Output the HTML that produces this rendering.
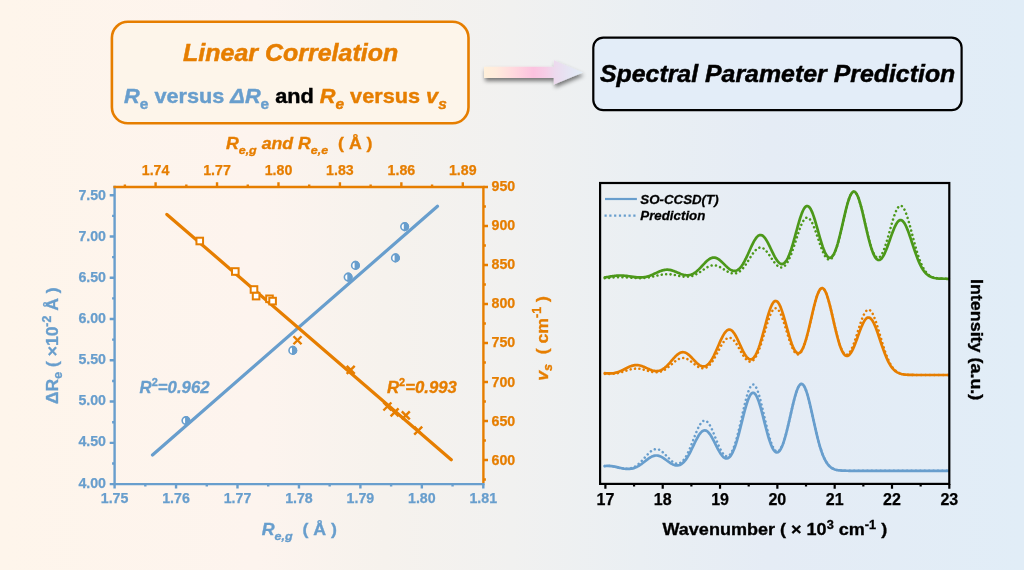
<!DOCTYPE html>
<html lang="en"><head><meta charset="utf-8"><title>Linear Correlation - Spectral Parameter Prediction</title>
<style>html,body{margin:0;padding:0;background:#f1f1f0;}body{width:1024px;height:570px;overflow:hidden;}svg{display:block;font-family:"Liberation Sans", sans-serif;font-weight:bold;}.i{font-style:italic;}.n{font-style:normal;}</style></head><body>
<svg width="1024" height="570" viewBox="0 0 1024 570">
<defs>
<linearGradient id="bg" x1="0" y1="0" x2="1" y2="0">
<stop offset="0" stop-color="rgb(254,245,235)"/>
<stop offset="0.25" stop-color="rgb(253,244,238)"/>
<stop offset="0.375" stop-color="rgb(246,242,237)"/>
<stop offset="0.5" stop-color="rgb(241,241,240)"/>
<stop offset="0.625" stop-color="rgb(234,239,243)"/>
<stop offset="0.75" stop-color="rgb(229,236,245)"/>
<stop offset="1" stop-color="rgb(225,237,247)"/>
</linearGradient>
<linearGradient id="ag" x1="484" y1="0" x2="583" y2="0" gradientUnits="userSpaceOnUse">
<stop offset="0" stop-color="#FFF0DA"/>
<stop offset="0.12" stop-color="#FFEBDC"/>
<stop offset="0.3" stop-color="#FFD8DE"/>
<stop offset="0.5" stop-color="#FBC2DF"/>
<stop offset="0.62" stop-color="#F6CDE6"/>
<stop offset="0.72" stop-color="#ECDAEE"/>
<stop offset="0.85" stop-color="#E6E4F3"/>
<stop offset="1" stop-color="#E2EEF8"/>
</linearGradient>
<filter id="sh" x="-10%" y="-30%" width="125%" height="170%"><feGaussianBlur in="SourceAlpha" stdDeviation="2"/><feOffset dx="1.3" dy="2.9"/><feComponentTransfer><feFuncA type="linear" slope="0.52"/></feComponentTransfer><feMerge><feMergeNode/><feMergeNode in="SourceGraphic"/></feMerge></filter>
</defs>
<rect x="0" y="0" width="1024" height="570" fill="url(#bg)"/>
<rect x="111.9" y="21.8" width="356.6" height="101.5" rx="16" ry="16" fill="#FDF5EA" stroke="#E67E00" stroke-width="2.6"/>
<text transform="translate(290.60 61.20) scale(1.0370 1)" font-size="24.1" fill="#E67E00" stroke="#E67E00" stroke-width="0.48" text-anchor="middle" class="i" xml:space="preserve">Linear Correlation</text>
<text transform="translate(124.10 103.10) scale(1.0640 1)" font-size="20.4" fill="#689ECD" stroke="#689ECD" stroke-width="0.41" text-anchor="start" xml:space="preserve"><tspan class="i">R</tspan><tspan dy="5.8" font-size="14.5">e</tspan><tspan dy="-5.8"> versus </tspan><tspan class="i">ΔR</tspan><tspan dy="5.8" font-size="14.5">e</tspan><tspan dy="-5.8" fill="#000" stroke="#000"> and </tspan><tspan fill="#E67E00" stroke="#E67E00" class="i">R</tspan><tspan fill="#E67E00" stroke="#E67E00" class="i" dy="5.8" font-size="14.5">e</tspan><tspan fill="#E67E00" stroke="#E67E00" dy="-5.8"> versus </tspan><tspan fill="#E67E00" stroke="#E67E00" class="i">v</tspan><tspan fill="#E67E00" stroke="#E67E00" class="i" dy="5.8" font-size="14.5">s</tspan></text>
<path filter="url(#sh)" fill="url(#ag)" d="M484 66.8H553.9V60.3L582.9 72.4L553.9 84.6V77.9H484Z"/>
<rect x="593.3" y="37.6" width="368.3" height="72.5" rx="10" ry="10" fill="#E3EDF8" stroke="#000" stroke-width="2.2"/>
<text transform="translate(777.60 82.20) scale(1.0370 1)" font-size="24" fill="#000" stroke="#000" stroke-width="0.48" text-anchor="middle" class="i" xml:space="preserve">Spectral Parameter Prediction</text>
<path d="M114.60 484.10H109.70M114.60 463.47H112.10M114.60 442.83H109.70M114.60 422.20H112.10M114.60 401.56H109.70M114.60 380.93H112.10M114.60 360.29H109.70M114.60 339.65H112.10M114.60 319.02H109.70M114.60 298.38H112.10M114.60 277.75H109.70M114.60 257.12H112.10M114.60 236.48H109.70M114.60 215.85H112.10M114.60 195.21H109.70M114.60 484.10V488.60M145.32 484.10V486.60M176.05 484.10V488.60M206.77 484.10V486.60M237.50 484.10V488.60M268.22 484.10V486.60M298.95 484.10V488.60M329.67 484.10V486.60M360.40 484.10V488.60M391.12 484.10V486.60M421.85 484.10V488.60M452.57 484.10V486.60M483.30 484.10V488.60" stroke="#689ECD" stroke-width="2.4" fill="none"/>
<path d="M114.60 187.00V484.10H483.40" stroke="#689ECD" stroke-width="2.4" fill="none" stroke-linecap="square"/>
<path d="M155.60 187.00V182.20M217.04 187.00V182.20M278.48 187.00V182.20M339.92 187.00V182.20M401.36 187.00V182.20M462.80 187.00V182.20M124.88 187.00V184.50M186.32 187.00V184.50M247.76 187.00V184.50M309.20 187.00V184.50M370.64 187.00V184.50M432.08 187.00V184.50M483.40 460.00H488.00M483.40 421.00H488.00M483.40 382.00H488.00M483.40 343.00H488.00M483.40 304.00H488.00M483.40 265.00H488.00M483.40 226.00H488.00M483.40 187.00H488.00M483.40 479.50H485.90M483.40 440.50H485.90M483.40 401.50H485.90M483.40 362.50H485.90M483.40 323.50H485.90M483.40 284.50H485.90M483.40 245.50H485.90M483.40 206.50H485.90" stroke="#E67E00" stroke-width="2.4" fill="none"/>
<path d="M113.40 187.00H483.40V482.90" stroke="#E67E00" stroke-width="2.4" fill="none"/>
<g font-size="14.2" fill="#689ECD" stroke="#689ECD" stroke-width="0.25" text-anchor="end">
<text x="106.0" y="487.50">4.00</text>
<text x="106.0" y="446.40">4.50</text>
<text x="106.0" y="405.30">5.00</text>
<text x="106.0" y="364.20">5.50</text>
<text x="106.0" y="323.10">6.00</text>
<text x="106.0" y="282.00">6.50</text>
<text x="106.0" y="240.90">7.00</text>
<text x="106.0" y="199.80">7.50</text>
</g>
<g font-size="14.2" fill="#689ECD" stroke="#689ECD" stroke-width="0.25" text-anchor="middle">
<text x="114.60" y="503.2">1.75</text>
<text x="176.05" y="503.2">1.76</text>
<text x="237.50" y="503.2">1.77</text>
<text x="298.95" y="503.2">1.78</text>
<text x="360.40" y="503.2">1.79</text>
<text x="421.85" y="503.2">1.80</text>
<text x="483.30" y="503.2">1.81</text>
</g>
<g font-size="14.2" fill="#E67E00" stroke="#E67E00" stroke-width="0.25" text-anchor="middle">
<text x="155.60" y="174.7">1.74</text>
<text x="217.04" y="174.7">1.77</text>
<text x="278.48" y="174.7">1.80</text>
<text x="339.92" y="174.7">1.83</text>
<text x="401.36" y="174.7">1.86</text>
<text x="462.80" y="174.7">1.89</text>
</g>
<g font-size="14.2" fill="#E67E00" stroke="#E67E00" stroke-width="0.25" text-anchor="start">
<text x="491.5" y="464.70">600</text>
<text x="491.5" y="425.63">650</text>
<text x="491.5" y="386.56">700</text>
<text x="491.5" y="347.49">750</text>
<text x="491.5" y="308.42">800</text>
<text x="491.5" y="269.35">850</text>
<text x="491.5" y="230.28">900</text>
<text x="491.5" y="191.21">950</text>
</g>
<g stroke="#689ECD" stroke-width="1.6">
<circle cx="185.90" cy="420.60" r="3.75" fill="#fff"/><path d="M185.90 416.85a3.75 3.75 0 0 1 0 7.5z" fill="#689ECD"/>
<circle cx="292.75" cy="350.40" r="3.75" fill="#fff"/><path d="M292.75 346.65a3.75 3.75 0 0 1 0 7.5z" fill="#689ECD"/>
<circle cx="348.10" cy="277.10" r="3.75" fill="#fff"/><path d="M348.10 273.35a3.75 3.75 0 0 1 0 7.5z" fill="#689ECD"/>
<circle cx="355.40" cy="265.40" r="3.75" fill="#fff"/><path d="M355.40 261.65a3.75 3.75 0 0 1 0 7.5z" fill="#689ECD"/>
<circle cx="395.40" cy="257.90" r="3.75" fill="#fff"/><path d="M395.40 254.15a3.75 3.75 0 0 1 0 7.5z" fill="#689ECD"/>
<circle cx="404.60" cy="226.60" r="3.75" fill="#fff"/><path d="M404.60 222.85a3.75 3.75 0 0 1 0 7.5z" fill="#689ECD"/>
</g>
<path d="M152.5 455L437.5 206.25" stroke="#689ECD" stroke-width="3.2" stroke-linecap="round" fill="none"/>
<path d="M166.9 214.4L451.25 459.75" stroke="#E67E00" stroke-width="3.25" stroke-linecap="round" fill="none"/>
<g stroke="#E67E00" stroke-width="2" fill="#fff">
<rect x="196.45" y="237.70" width="6.6" height="6.6"/>
<rect x="232.00" y="268.20" width="6.6" height="6.6"/>
<rect x="250.70" y="286.20" width="6.6" height="6.6"/>
<rect x="252.80" y="292.80" width="6.6" height="6.6"/>
<rect x="266.20" y="295.50" width="6.6" height="6.6"/>
<rect x="269.30" y="297.80" width="6.6" height="6.6"/>
</g>
<path d="M293.50 336.25l8.00 8.00M293.50 344.25l8.00 -8.00M346.70 365.80l8.00 8.00M346.70 373.80l8.00 -8.00M383.40 402.50l8.00 8.00M383.40 410.50l8.00 -8.00M390.60 408.30l8.00 8.00M390.60 416.30l8.00 -8.00M401.80 411.30l8.00 8.00M401.80 419.30l8.00 -8.00M414.20 426.70l8.00 8.00M414.20 434.70l8.00 -8.00" stroke="#E67E00" stroke-width="2.4" fill="none"/>
<text transform="translate(139.60 392.50) scale(1.0480 1)" font-size="16" fill="#689ECD" stroke="#689ECD" stroke-width="0.32" text-anchor="start" class="i" xml:space="preserve">R<tspan class="n" dy="-7" font-size="10.5">2</tspan><tspan dy="7">=0.962</tspan></text>
<text transform="translate(387.00 393.30) scale(1.0460 1)" font-size="16" fill="#E67E00" stroke="#E67E00" stroke-width="0.32" text-anchor="start" class="i" xml:space="preserve">R<tspan class="n" dy="-7" font-size="10.5">2</tspan><tspan dy="7">=0.993</tspan></text>
<text transform="translate(299.20 149.10) scale(1.0870 1)" font-size="16.3" fill="#E67E00" stroke="#E67E00" stroke-width="0.33" text-anchor="middle" xml:space="preserve"><tspan class="i">R</tspan><tspan class="i" dy="4.5" font-size="11.5">e,g</tspan><tspan class="i" dy="-4.5"> and R</tspan><tspan class="i" dy="4.5" font-size="11.5">e,e</tspan><tspan dy="-4.5">  ( Å )</tspan></text>
<text transform="translate(299.30 535.00) scale(1.0900 1)" font-size="16.3" fill="#689ECD" stroke="#689ECD" stroke-width="0.33" text-anchor="middle" xml:space="preserve"><tspan class="i">R</tspan><tspan class="i" dy="4.5" font-size="11.5">e,g</tspan><tspan dy="-4.5">  ( Å )</tspan></text>
<text transform="translate(57.90 345.70) rotate(-90) scale(1.0300 1)" font-size="17" fill="#689ECD" stroke="#689ECD" stroke-width="0.34" text-anchor="middle" xml:space="preserve">ΔR<tspan dy="4" font-size="12">e</tspan><tspan dy="-4"> ( ×10</tspan><tspan dy="-6.7" font-size="12">-2</tspan><tspan dy="6.7"> Å )</tspan></text>
<text transform="translate(547.80 338.40) rotate(-90) scale(1.0170 1)" font-size="17.3" fill="#E67E00" stroke="#E67E00" stroke-width="0.35" text-anchor="middle" xml:space="preserve"><tspan class="i">v</tspan><tspan class="i" dy="4" font-size="12.3">s</tspan><tspan dy="-4">  ( cm</tspan><tspan dy="-6.7" font-size="12.3">-1</tspan><tspan dy="6.7"> )</tspan></text>
<path d="M604.8 278.18L605.8 278.11L606.8 278.04L607.8 277.96L608.8 277.89L609.8 277.81L610.8 277.73L611.8 277.66L612.8 277.59L613.8 277.52L614.8 277.46L615.8 277.41L616.8 277.37L617.8 277.34L618.8 277.31L619.8 277.30L620.8 277.30L621.8 277.31L622.8 277.33L623.8 277.36L624.8 277.40L625.8 277.45L626.8 277.50L627.8 277.56L628.8 277.63L629.8 277.69L630.8 277.76L631.8 277.83L632.8 277.89L633.8 277.96L634.8 278.01L635.8 278.06L636.8 278.10L637.8 278.12L638.8 278.14L639.8 278.14L640.8 278.13L641.8 278.10L642.8 278.05L643.8 277.99L644.8 277.91L645.8 277.81L646.8 277.69L647.8 277.56L648.8 277.40L649.8 277.23L650.8 277.04L651.8 276.83L652.8 276.62L653.8 276.39L654.8 276.16L655.8 275.92L656.8 275.69L657.8 275.46L658.8 275.23L659.8 275.02L660.8 274.83L661.8 274.65L662.8 274.50L663.8 274.38L664.8 274.29L665.8 274.23L666.8 274.20L667.8 274.20L668.8 274.24L669.8 274.31L670.8 274.41L671.8 274.54L672.8 274.70L673.8 274.87L674.8 275.06L675.8 275.26L676.8 275.47L677.8 275.68L678.8 275.89L679.8 276.09L680.8 276.27L681.8 276.44L682.8 276.58L683.8 276.69L684.8 276.77L685.8 276.81L686.8 276.81L687.8 276.77L688.8 276.68L689.8 276.53L690.8 276.34L691.8 276.09L692.8 275.78L693.8 275.42L694.8 275.00L695.8 274.53L696.8 274.01L697.8 273.45L698.8 272.84L699.8 272.20L700.8 271.53L701.8 270.84L702.8 270.15L703.8 269.46L704.8 268.79L705.8 268.14L706.8 267.53L707.8 266.98L708.8 266.49L709.8 266.07L710.8 265.74L711.8 265.49L712.8 265.34L713.8 265.29L714.8 265.34L715.8 265.48L716.8 265.72L717.8 266.04L718.8 266.45L719.8 266.92L720.8 267.46L721.8 268.04L722.8 268.65L723.8 269.28L724.8 269.91L725.8 270.54L726.8 271.14L727.8 271.69L728.8 272.20L729.8 272.64L730.8 273.01L731.8 273.28L732.8 273.46L733.8 273.53L734.8 273.49L735.8 273.32L736.8 273.03L737.8 272.60L738.8 272.04L739.8 271.34L740.8 270.50L741.8 269.53L742.8 268.44L743.8 267.22L744.8 265.90L745.8 264.48L746.8 262.98L747.8 261.43L748.8 259.84L749.8 258.24L750.8 256.65L751.8 255.11L752.8 253.64L753.8 252.27L754.8 251.03L755.8 249.94L756.8 249.03L757.8 248.32L758.8 247.82L759.8 247.54L760.8 247.49L761.8 247.66L762.8 248.07L763.8 248.68L764.8 249.50L765.8 250.50L766.8 251.65L767.8 252.93L768.8 254.31L769.8 255.76L770.8 257.25L771.8 258.74L772.8 260.21L773.8 261.61L774.8 262.92L775.8 264.12L776.8 265.16L777.8 266.04L778.8 266.73L779.8 267.20L780.8 267.44L781.8 267.43L782.8 267.17L783.8 266.64L784.8 265.83L785.8 264.74L786.8 263.37L787.8 261.72L788.8 259.81L789.8 257.64L790.8 255.24L791.8 252.63L792.8 249.83L793.8 246.89L794.8 243.84L795.8 240.73L796.8 237.62L797.8 234.55L798.8 231.58L799.8 228.77L800.8 226.16L801.8 223.83L802.8 221.80L803.8 220.14L804.8 218.86L805.8 218.01L806.8 217.60L807.8 217.64L808.8 218.13L809.8 219.05L810.8 220.39L811.8 222.11L812.8 224.17L813.8 226.52L814.8 229.12L815.8 231.91L816.8 234.82L817.8 237.80L818.8 240.78L819.8 243.71L820.8 246.53L821.8 249.19L822.8 251.63L823.8 253.81L824.8 255.69L825.8 257.24L826.8 258.42L827.8 259.22L828.8 259.60L829.8 259.55L830.8 259.07L831.8 258.14L832.8 256.77L833.8 254.95L834.8 252.71L835.8 250.06L836.8 247.02L837.8 243.63L838.8 239.93L839.8 235.96L840.8 231.79L841.8 227.47L842.8 223.08L843.8 218.69L844.8 214.38L845.8 210.22L846.8 206.31L847.8 202.72L848.8 199.53L849.8 196.80L850.8 194.60L851.8 192.97L852.8 191.95L853.8 191.56L854.8 191.82L855.8 192.71L856.8 194.22L857.8 196.31L858.8 198.93L859.8 202.03L860.8 205.53L861.8 209.38L862.8 213.47L863.8 217.74L864.8 222.10L865.8 226.47L866.8 230.77L867.8 234.93L868.8 238.88L869.8 242.56L870.8 245.93L871.8 248.93L872.8 251.54L873.8 253.71L874.8 255.43L875.8 256.69L876.8 257.47L877.8 257.77L878.8 257.59L879.8 256.94L880.8 255.84L881.8 254.31L882.8 252.36L883.8 250.04L884.8 247.38L885.8 244.42L886.8 241.21L887.8 237.81L888.8 234.28L889.8 230.68L890.8 227.09L891.8 223.56L892.8 220.18L893.8 217.01L894.8 214.12L895.8 211.57L896.8 209.43L897.8 207.73L898.8 206.53L899.8 205.84L900.8 205.69L901.8 206.07L902.8 206.99L903.8 208.42L904.8 210.33L905.8 212.68L906.8 215.43L907.8 218.51L908.8 221.86L909.8 225.43L910.8 229.14L911.8 232.93L912.8 236.75L913.8 240.54L914.8 244.24L915.8 247.82L916.8 251.23L917.8 254.45L918.8 257.45L919.8 260.22L920.8 262.75L921.8 265.04L922.8 267.09L923.8 268.91L924.8 270.50L925.8 271.90L926.8 273.10L927.8 274.12L928.8 274.99L929.8 275.72L930.8 276.33L931.8 276.84L932.8 277.25L933.8 277.58L934.8 277.85L935.8 278.07L936.8 278.24L937.8 278.37L938.8 278.48L939.8 278.56L940.8 278.62L941.8 278.67L942.8 278.70L943.8 278.73L944.8 278.75L945.8 278.76L946.8 278.77L947.8 278.78L948.8 278.79" stroke="#4C981A" stroke-width="2.55" stroke-dasharray="0.01 4.4" stroke-linecap="round" fill="none"/>
<path d="M604.8 277.44L605.8 277.28L606.8 277.12L607.8 276.96L608.8 276.79L609.8 276.62L610.8 276.45L611.8 276.29L612.8 276.13L613.8 275.99L614.8 275.86L615.8 275.75L616.8 275.65L617.8 275.58L618.8 275.53L619.8 275.50L620.8 275.50L621.8 275.52L622.8 275.56L623.8 275.63L624.8 275.72L625.8 275.82L626.8 275.94L627.8 276.08L628.8 276.22L629.8 276.37L630.8 276.52L631.8 276.68L632.8 276.82L633.8 276.96L634.8 277.08L635.8 277.19L636.8 277.29L637.8 277.35L638.8 277.40L639.8 277.41L640.8 277.40L641.8 277.35L642.8 277.27L643.8 277.16L644.8 277.00L645.8 276.81L646.8 276.58L647.8 276.32L648.8 276.01L649.8 275.67L650.8 275.30L651.8 274.90L652.8 274.48L653.8 274.03L654.8 273.57L655.8 273.11L656.8 272.64L657.8 272.18L658.8 271.74L659.8 271.32L660.8 270.94L661.8 270.60L662.8 270.30L663.8 270.06L664.8 269.87L665.8 269.75L666.8 269.70L667.8 269.71L668.8 269.79L669.8 269.93L670.8 270.13L671.8 270.39L672.8 270.69L673.8 271.04L674.8 271.42L675.8 271.83L676.8 272.25L677.8 272.68L678.8 273.10L679.8 273.51L680.8 273.90L681.8 274.25L682.8 274.56L683.8 274.82L684.8 275.03L685.8 275.17L686.8 275.24L687.8 275.23L688.8 275.14L689.8 274.97L690.8 274.70L691.8 274.35L692.8 273.90L693.8 273.36L694.8 272.73L695.8 272.01L696.8 271.21L697.8 270.34L698.8 269.39L699.8 268.39L700.8 267.35L701.8 266.28L702.8 265.20L703.8 264.12L704.8 263.06L705.8 262.05L706.8 261.10L707.8 260.23L708.8 259.46L709.8 258.81L710.8 258.29L711.8 257.90L712.8 257.67L713.8 257.58L714.8 257.66L715.8 257.89L716.8 258.26L717.8 258.77L718.8 259.41L719.8 260.16L720.8 261.00L721.8 261.92L722.8 262.89L723.8 263.89L724.8 264.89L725.8 265.89L726.8 266.84L727.8 267.74L728.8 268.56L729.8 269.29L730.8 269.90L731.8 270.39L732.8 270.73L733.8 270.91L734.8 270.92L735.8 270.75L736.8 270.40L737.8 269.85L738.8 269.11L739.8 268.17L740.8 267.03L741.8 265.70L742.8 264.19L743.8 262.51L744.8 260.68L745.8 258.71L746.8 256.62L747.8 254.46L748.8 252.24L749.8 250.00L750.8 247.79L751.8 245.64L752.8 243.58L753.8 241.67L754.8 239.94L755.8 238.42L756.8 237.14L757.8 236.15L758.8 235.44L759.8 235.05L760.8 234.98L761.8 235.24L762.8 235.80L763.8 236.67L764.8 237.82L765.8 239.22L766.8 240.84L767.8 242.64L768.8 244.59L769.8 246.64L770.8 248.74L771.8 250.86L772.8 252.94L773.8 254.95L774.8 256.84L775.8 258.58L776.8 260.13L777.8 261.46L778.8 262.55L779.8 263.35L780.8 263.86L781.8 264.06L782.8 263.93L783.8 263.46L784.8 262.64L785.8 261.46L786.8 259.94L787.8 258.07L788.8 255.88L789.8 253.36L790.8 250.56L791.8 247.49L792.8 244.20L793.8 240.73L794.8 237.13L795.8 233.46L796.8 229.77L797.8 226.13L798.8 222.60L799.8 219.26L800.8 216.17L801.8 213.39L802.8 210.99L803.8 209.01L804.8 207.50L805.8 206.49L806.8 206.01L807.8 206.05L808.8 206.64L809.8 207.74L810.8 209.33L811.8 211.38L812.8 213.84L813.8 216.66L814.8 219.76L815.8 223.10L816.8 226.59L817.8 230.16L818.8 233.75L819.8 237.28L820.8 240.70L821.8 243.93L822.8 246.93L823.8 249.64L824.8 252.02L825.8 254.03L826.8 255.64L827.8 256.82L828.8 257.55L829.8 257.81L830.8 257.60L831.8 256.91L832.8 255.75L833.8 254.12L834.8 252.03L835.8 249.50L836.8 246.57L837.8 243.27L838.8 239.65L839.8 235.74L840.8 231.62L841.8 227.34L842.8 222.98L843.8 218.61L844.8 214.32L845.8 210.18L846.8 206.28L847.8 202.70L848.8 199.51L849.8 196.79L850.8 194.59L851.8 192.96L852.8 191.95L853.8 191.56L854.8 191.82L855.8 192.72L856.8 194.23L857.8 196.32L858.8 198.95L859.8 202.06L860.8 205.57L861.8 209.43L862.8 213.54L863.8 217.83L864.8 222.22L865.8 226.63L866.8 230.97L867.8 235.19L868.8 239.21L869.8 242.99L870.8 246.46L871.8 249.60L872.8 252.35L873.8 254.71L874.8 256.65L875.8 258.15L876.8 259.22L877.8 259.85L878.8 260.05L879.8 259.83L880.8 259.20L881.8 258.18L882.8 256.80L883.8 255.09L884.8 253.07L885.8 250.80L886.8 248.31L887.8 245.65L888.8 242.87L889.8 240.02L890.8 237.16L891.8 234.36L892.8 231.66L893.8 229.13L894.8 226.82L895.8 224.79L896.8 223.07L897.8 221.72L898.8 220.75L899.8 220.20L900.8 220.08L901.8 220.40L902.8 221.13L903.8 222.28L904.8 223.82L905.8 225.71L906.8 227.91L907.8 230.38L908.8 233.08L909.8 235.94L910.8 238.92L911.8 241.97L912.8 245.04L913.8 248.08L914.8 251.05L915.8 253.92L916.8 256.66L917.8 259.25L918.8 261.66L919.8 263.88L920.8 265.91L921.8 267.75L922.8 269.40L923.8 270.86L924.8 272.14L925.8 273.26L926.8 274.22L927.8 275.04L928.8 275.74L929.8 276.33L930.8 276.82L931.8 277.22L932.8 277.55L933.8 277.82L934.8 278.04L935.8 278.21L936.8 278.35L937.8 278.46L938.8 278.54L939.8 278.61L940.8 278.66L941.8 278.69L942.8 278.72L943.8 278.74L944.8 278.76L945.8 278.77L946.8 278.78L947.8 278.79L948.8 278.79" stroke="#4C981A" stroke-width="2.7" stroke-linecap="round" stroke-linejoin="round" fill="none"/>
<path d="M604.8 373.95L605.8 374.01L606.8 374.05L607.8 374.08L608.8 374.08L609.8 374.07L610.8 374.04L611.8 373.99L612.8 373.91L613.8 373.81L614.8 373.68L615.8 373.53L616.8 373.35L617.8 373.14L618.8 372.91L619.8 372.65L620.8 372.38L621.8 372.08L622.8 371.78L623.8 371.46L624.8 371.13L625.8 370.80L626.8 370.47L627.8 370.16L628.8 369.86L629.8 369.58L630.8 369.32L631.8 369.10L632.8 368.91L633.8 368.77L634.8 368.66L635.8 368.61L636.8 368.60L637.8 368.63L638.8 368.71L639.8 368.84L640.8 369.00L641.8 369.20L642.8 369.43L643.8 369.69L644.8 369.97L645.8 370.26L646.8 370.55L647.8 370.84L648.8 371.13L649.8 371.39L650.8 371.64L651.8 371.85L652.8 372.03L653.8 372.16L654.8 372.25L655.8 372.29L656.8 372.26L657.8 372.18L658.8 372.03L659.8 371.81L660.8 371.52L661.8 371.16L662.8 370.72L663.8 370.22L664.8 369.64L665.8 369.00L666.8 368.30L667.8 367.55L668.8 366.75L669.8 365.91L670.8 365.05L671.8 364.18L672.8 363.32L673.8 362.47L674.8 361.65L675.8 360.88L676.8 360.18L677.8 359.55L678.8 359.02L679.8 358.59L680.8 358.27L681.8 358.06L682.8 357.99L683.8 358.03L684.8 358.20L685.8 358.49L686.8 358.89L687.8 359.39L688.8 359.98L689.8 360.64L690.8 361.37L691.8 362.13L692.8 362.92L693.8 363.72L694.8 364.51L695.8 365.26L696.8 365.97L697.8 366.62L698.8 367.18L699.8 367.65L700.8 368.01L701.8 368.25L702.8 368.35L703.8 368.32L704.8 368.13L705.8 367.79L706.8 367.28L707.8 366.61L708.8 365.77L709.8 364.76L710.8 363.60L711.8 362.28L712.8 360.82L713.8 359.23L714.8 357.54L715.8 355.75L716.8 353.89L717.8 352.00L718.8 350.10L719.8 348.22L720.8 346.40L721.8 344.67L722.8 343.07L723.8 341.63L724.8 340.37L725.8 339.34L726.8 338.53L727.8 337.99L728.8 337.71L729.8 337.70L730.8 337.97L731.8 338.50L732.8 339.29L733.8 340.30L734.8 341.53L735.8 342.94L736.8 344.49L737.8 346.16L738.8 347.90L739.8 349.68L740.8 351.46L741.8 353.19L742.8 354.85L743.8 356.40L744.8 357.80L745.8 359.03L746.8 360.05L747.8 360.84L748.8 361.38L749.8 361.65L750.8 361.63L751.8 361.32L752.8 360.69L753.8 359.75L754.8 358.49L755.8 356.92L756.8 355.04L757.8 352.87L758.8 350.42L759.8 347.71L760.8 344.79L761.8 341.68L762.8 338.43L763.8 335.08L764.8 331.70L765.8 328.33L766.8 325.03L767.8 321.87L768.8 318.92L769.8 316.22L770.8 313.83L771.8 311.82L772.8 310.21L773.8 309.05L774.8 308.36L775.8 308.16L776.8 308.45L777.8 309.22L778.8 310.46L779.8 312.13L780.8 314.20L781.8 316.62L782.8 319.33L783.8 322.28L784.8 325.40L785.8 328.62L786.8 331.89L787.8 335.13L788.8 338.28L789.8 341.29L790.8 344.09L791.8 346.64L792.8 348.89L793.8 350.79L794.8 352.33L795.8 353.46L796.8 354.17L797.8 354.44L798.8 354.24L799.8 353.59L800.8 352.47L801.8 350.89L802.8 348.87L803.8 346.41L804.8 343.55L805.8 340.32L806.8 336.75L807.8 332.90L808.8 328.82L809.8 324.58L810.8 320.24L811.8 315.88L812.8 311.58L813.8 307.42L814.8 303.48L815.8 299.84L816.8 296.58L817.8 293.77L818.8 291.47L819.8 289.73L820.8 288.60L821.8 288.08L822.8 288.21L823.8 288.98L824.8 290.36L825.8 292.33L826.8 294.84L827.8 297.84L828.8 301.26L829.8 305.03L830.8 309.07L831.8 313.30L832.8 317.64L833.8 322.00L834.8 326.32L835.8 330.51L836.8 334.51L837.8 338.26L838.8 341.71L839.8 344.81L840.8 347.53L841.8 349.84L842.8 351.71L843.8 353.13L844.8 354.09L845.8 354.60L846.8 354.64L847.8 354.25L848.8 353.41L849.8 352.17L850.8 350.54L851.8 348.56L852.8 346.25L853.8 343.67L854.8 340.85L855.8 337.86L856.8 334.74L857.8 331.56L858.8 328.38L859.8 325.27L860.8 322.28L861.8 319.48L862.8 316.94L863.8 314.71L864.8 312.84L865.8 311.37L866.8 310.35L867.8 309.78L868.8 309.70L869.8 310.09L870.8 310.96L871.8 312.28L872.8 314.03L873.8 316.17L874.8 318.65L875.8 321.43L876.8 324.45L877.8 327.65L878.8 330.97L879.8 334.37L880.8 337.78L881.8 341.16L882.8 344.46L883.8 347.64L884.8 350.67L885.8 353.53L886.8 356.19L887.8 358.64L888.8 360.88L889.8 362.90L890.8 364.71L891.8 366.31L892.8 367.72L893.8 368.95L894.8 370.00L895.8 370.91L896.8 371.67L897.8 372.31L898.8 372.85L899.8 373.29L900.8 373.65L901.8 373.94L902.8 374.18L903.8 374.36L904.8 374.51L905.8 374.63L906.8 374.72L907.8 374.79L908.8 374.84L909.8 374.88L910.8 374.92L911.8 374.94L912.8 374.96L913.8 374.97L914.8 374.98L915.8 374.98L916.8 374.99L917.8 374.99L918.8 374.99L919.8 375.00L920.8 375.00L921.8 375.00L922.8 375.00L923.8 375.00L924.8 375.00L925.8 375.00L926.8 375.00L927.8 375.00L928.8 375.00L929.8 375.00L930.8 375.00L931.8 375.00L932.8 375.00L933.8 375.00L934.8 375.00L935.8 375.00L936.8 375.00L937.8 375.00L938.8 375.00L939.8 375.00L940.8 375.00L941.8 375.00L942.8 375.00L943.8 375.00L944.8 375.00L945.8 375.00L946.8 375.00L947.8 375.00L948.8 375.00" stroke="#E67E00" stroke-width="2.55" stroke-dasharray="0.01 4.4" stroke-linecap="round" fill="none"/>
<path d="M604.8 373.20L605.8 373.30L606.8 373.38L607.8 373.44L608.8 373.47L609.8 373.47L610.8 373.44L611.8 373.37L612.8 373.26L613.8 373.11L614.8 372.92L615.8 372.68L616.8 372.41L617.8 372.10L618.8 371.75L619.8 371.36L620.8 370.93L621.8 370.48L622.8 370.01L623.8 369.51L624.8 369.01L625.8 368.50L626.8 368.00L627.8 367.51L628.8 367.04L629.8 366.61L630.8 366.22L631.8 365.87L632.8 365.58L633.8 365.36L634.8 365.20L635.8 365.11L636.8 365.09L637.8 365.15L638.8 365.28L639.8 365.47L640.8 365.73L641.8 366.04L642.8 366.40L643.8 366.80L644.8 367.23L645.8 367.68L646.8 368.15L647.8 368.61L648.8 369.05L649.8 369.48L650.8 369.87L651.8 370.22L652.8 370.52L653.8 370.76L654.8 370.94L655.8 371.03L656.8 371.05L657.8 370.97L658.8 370.81L659.8 370.54L660.8 370.18L661.8 369.72L662.8 369.16L663.8 368.50L664.8 367.75L665.8 366.90L666.8 365.97L667.8 364.97L668.8 363.90L669.8 362.79L670.8 361.64L671.8 360.48L672.8 359.32L673.8 358.18L674.8 357.09L675.8 356.06L676.8 355.12L677.8 354.28L678.8 353.56L679.8 352.99L680.8 352.56L681.8 352.29L682.8 352.18L683.8 352.25L684.8 352.47L685.8 352.86L686.8 353.40L687.8 354.07L688.8 354.86L689.8 355.76L690.8 356.73L691.8 357.77L692.8 358.84L693.8 359.92L694.8 360.98L695.8 362.01L696.8 362.98L697.8 363.87L698.8 364.66L699.8 365.32L700.8 365.85L701.8 366.22L702.8 366.43L703.8 366.45L704.8 366.28L705.8 365.92L706.8 365.35L707.8 364.57L708.8 363.59L709.8 362.40L710.8 361.01L711.8 359.43L712.8 357.67L713.8 355.75L714.8 353.69L715.8 351.53L716.8 349.28L717.8 346.98L718.8 344.67L719.8 342.39L720.8 340.18L721.8 338.08L722.8 336.13L723.8 334.38L724.8 332.85L725.8 331.59L726.8 330.61L727.8 329.95L728.8 329.61L729.8 329.61L730.8 329.93L731.8 330.58L732.8 331.54L733.8 332.78L734.8 334.28L735.8 336.00L736.8 337.90L737.8 339.93L738.8 342.07L739.8 344.24L740.8 346.42L741.8 348.56L742.8 350.61L743.8 352.53L744.8 354.28L745.8 355.82L746.8 357.13L747.8 358.17L748.8 358.92L749.8 359.36L750.8 359.46L751.8 359.22L752.8 358.62L753.8 357.67L754.8 356.35L755.8 354.67L756.8 352.64L757.8 350.28L758.8 347.61L759.8 344.64L760.8 341.43L761.8 338.01L762.8 334.42L763.8 330.73L764.8 326.99L765.8 323.27L766.8 319.62L767.8 316.13L768.8 312.86L769.8 309.87L770.8 307.24L771.8 305.00L772.8 303.23L773.8 301.94L774.8 301.18L775.8 300.96L776.8 301.28L777.8 302.14L778.8 303.51L779.8 305.36L780.8 307.66L781.8 310.35L782.8 313.36L783.8 316.64L784.8 320.11L785.8 323.70L786.8 327.34L787.8 330.95L788.8 334.48L789.8 337.85L790.8 341.00L791.8 343.89L792.8 346.46L793.8 348.66L794.8 350.47L795.8 351.86L796.8 352.79L797.8 353.26L798.8 353.25L799.8 352.76L800.8 351.78L801.8 350.32L802.8 348.40L803.8 346.03L804.8 343.24L805.8 340.07L806.8 336.55L807.8 332.75L808.8 328.70L809.8 324.49L810.8 320.17L811.8 315.83L812.8 311.54L813.8 307.39L814.8 303.46L815.8 299.83L816.8 296.57L817.8 293.76L818.8 291.47L819.8 289.73L820.8 288.59L821.8 288.08L822.8 288.21L823.8 288.98L824.8 290.37L825.8 292.34L826.8 294.85L827.8 297.86L828.8 301.28L829.8 305.06L830.8 309.11L831.8 313.35L832.8 317.71L833.8 322.09L834.8 326.43L835.8 330.65L836.8 334.69L837.8 338.49L838.8 342.00L839.8 345.18L840.8 347.98L841.8 350.39L842.8 352.38L843.8 353.94L844.8 355.06L845.8 355.75L846.8 356.00L847.8 355.83L848.8 355.26L849.8 354.30L850.8 352.98L851.8 351.32L852.8 349.37L853.8 347.16L854.8 344.74L855.8 342.14L856.8 339.43L857.8 336.66L858.8 333.88L859.8 331.15L860.8 328.54L861.8 326.09L862.8 323.85L863.8 321.90L864.8 320.25L865.8 318.96L866.8 318.06L867.8 317.57L868.8 317.49L869.8 317.84L870.8 318.61L871.8 319.77L872.8 321.31L873.8 323.19L874.8 325.38L875.8 327.83L876.8 330.48L877.8 333.30L878.8 336.23L879.8 339.22L880.8 342.23L881.8 345.20L882.8 348.10L883.8 350.91L884.8 353.58L885.8 356.09L886.8 358.43L887.8 360.59L888.8 362.56L889.8 364.35L890.8 365.94L891.8 367.35L892.8 368.59L893.8 369.67L894.8 370.60L895.8 371.39L896.8 372.07L897.8 372.63L898.8 373.10L899.8 373.49L900.8 373.81L901.8 374.07L902.8 374.27L903.8 374.44L904.8 374.57L905.8 374.67L906.8 374.75L907.8 374.81L908.8 374.86L909.8 374.90L910.8 374.93L911.8 374.95L912.8 374.96L913.8 374.97L914.8 374.98L915.8 374.99L916.8 374.99L917.8 374.99L918.8 375.00L919.8 375.00L920.8 375.00L921.8 375.00L922.8 375.00L923.8 375.00L924.8 375.00L925.8 375.00L926.8 375.00L927.8 375.00L928.8 375.00L929.8 375.00L930.8 375.00L931.8 375.00L932.8 375.00L933.8 375.00L934.8 375.00L935.8 375.00L936.8 375.00L937.8 375.00L938.8 375.00L939.8 375.00L940.8 375.00L941.8 375.00L942.8 375.00L943.8 375.00L944.8 375.00L945.8 375.00L946.8 375.00L947.8 375.00L948.8 375.00" stroke="#E67E00" stroke-width="2.7" stroke-linecap="round" stroke-linejoin="round" fill="none"/>
<path d="M604.8 466.07L605.8 465.98L606.8 465.92L607.8 465.90L608.8 465.91L609.8 465.96L610.8 466.04L611.8 466.16L612.8 466.30L613.8 466.47L614.8 466.67L615.8 466.88L616.8 467.10L617.8 467.32L618.8 467.55L619.8 467.77L620.8 467.98L621.8 468.17L622.8 468.34L623.8 468.49L624.8 468.59L625.8 468.66L626.8 468.68L627.8 468.66L628.8 468.57L629.8 468.43L630.8 468.22L631.8 467.94L632.8 467.58L633.8 467.15L634.8 466.64L635.8 466.04L636.8 465.37L637.8 464.61L638.8 463.78L639.8 462.87L640.8 461.90L641.8 460.87L642.8 459.79L643.8 458.68L644.8 457.55L645.8 456.42L646.8 455.31L647.8 454.24L648.8 453.22L649.8 452.27L650.8 451.42L651.8 450.68L652.8 450.07L653.8 449.60L654.8 449.28L655.8 449.11L656.8 449.11L657.8 449.27L658.8 449.58L659.8 450.05L660.8 450.65L661.8 451.38L662.8 452.21L663.8 453.13L664.8 454.12L665.8 455.15L666.8 456.21L667.8 457.28L668.8 458.32L669.8 459.32L670.8 460.26L671.8 461.11L672.8 461.87L673.8 462.51L674.8 463.02L675.8 463.39L676.8 463.59L677.8 463.63L678.8 463.48L679.8 463.15L680.8 462.61L681.8 461.87L682.8 460.92L683.8 459.76L684.8 458.39L685.8 456.81L686.8 455.03L687.8 453.06L688.8 450.92L689.8 448.63L690.8 446.22L691.8 443.70L692.8 441.13L693.8 438.53L694.8 435.95L695.8 433.43L696.8 431.02L697.8 428.77L698.8 426.71L699.8 424.90L700.8 423.37L701.8 422.14L702.8 421.26L703.8 420.74L704.8 420.58L705.8 420.81L706.8 421.39L707.8 422.34L708.8 423.61L709.8 425.19L710.8 427.03L711.8 429.10L712.8 431.35L713.8 433.73L714.8 436.20L715.8 438.70L716.8 441.18L717.8 443.61L718.8 445.92L719.8 448.09L720.8 450.07L721.8 451.83L722.8 453.33L723.8 454.55L724.8 455.47L725.8 456.05L726.8 456.29L727.8 456.17L728.8 455.67L729.8 454.79L730.8 453.51L731.8 451.84L732.8 449.78L733.8 447.34L734.8 444.52L735.8 441.35L736.8 437.86L737.8 434.08L738.8 430.06L739.8 425.83L740.8 421.47L741.8 417.03L742.8 412.60L743.8 408.23L744.8 404.02L745.8 400.03L746.8 396.36L747.8 393.07L748.8 390.24L749.8 387.92L750.8 386.17L751.8 385.02L752.8 384.51L753.8 384.64L754.8 385.40L755.8 386.79L756.8 388.77L757.8 391.29L758.8 394.30L759.8 397.74L760.8 401.52L761.8 405.58L762.8 409.83L763.8 414.19L764.8 418.58L765.8 422.92L766.8 427.14L767.8 431.17L768.8 434.96L769.8 438.45L770.8 441.59L771.8 444.34L772.8 446.68L773.8 448.58L774.8 450.02L775.8 450.98L776.8 451.46L777.8 451.45L778.8 450.94L779.8 449.96L780.8 448.50L781.8 446.57L782.8 444.20L783.8 441.42L784.8 438.25L785.8 434.73L786.8 430.92L787.8 426.85L788.8 422.60L789.8 418.22L790.8 413.80L791.8 409.41L792.8 405.13L793.8 401.04L794.8 397.23L795.8 393.77L796.8 390.74L797.8 388.20L798.8 386.21L799.8 384.81L800.8 384.04L801.8 383.92L802.8 384.44L803.8 385.60L804.8 387.37L805.8 389.72L806.8 392.58L807.8 395.91L808.8 399.63L809.8 403.67L810.8 407.96L811.8 412.41L812.8 416.95L813.8 421.51L814.8 426.02L815.8 430.42L816.8 434.66L817.8 438.70L818.8 442.50L819.8 446.03L820.8 449.29L821.8 452.25L822.8 454.93L823.8 457.32L824.8 459.44L825.8 461.30L826.8 462.91L827.8 464.30L828.8 465.48L829.8 466.48L830.8 467.32L831.8 468.02L832.8 468.59L833.8 469.06L834.8 469.44L835.8 469.74L836.8 469.99L837.8 470.18L838.8 470.33L839.8 470.44L840.8 470.53L841.8 470.60L842.8 470.65L843.8 470.69L844.8 470.72L845.8 470.74L846.8 470.76L847.8 470.77L848.8 470.78L849.8 470.79L850.8 470.79L851.8 470.79L852.8 470.80L853.8 470.80L854.8 470.80L855.8 470.80L856.8 470.80L857.8 470.80L858.8 470.80L859.8 470.80L860.8 470.80L861.8 470.80L862.8 470.80L863.8 470.80L864.8 470.80L865.8 470.80L866.8 470.80L867.8 470.80L868.8 470.80L869.8 470.80L870.8 470.80L871.8 470.80L872.8 470.80L873.8 470.80L874.8 470.80L875.8 470.80L876.8 470.80L877.8 470.80L878.8 470.80L879.8 470.80L880.8 470.80L881.8 470.80L882.8 470.80L883.8 470.80L884.8 470.80L885.8 470.80L886.8 470.80L887.8 470.80L888.8 470.80L889.8 470.80L890.8 470.80L891.8 470.80L892.8 470.80L893.8 470.80L894.8 470.80L895.8 470.80L896.8 470.80L897.8 470.80L898.8 470.80L899.8 470.80L900.8 470.80L901.8 470.80L902.8 470.80L903.8 470.80L904.8 470.80L905.8 470.80L906.8 470.80L907.8 470.80L908.8 470.80L909.8 470.80L910.8 470.80L911.8 470.80L912.8 470.80L913.8 470.80L914.8 470.80L915.8 470.80L916.8 470.80L917.8 470.80L918.8 470.80L919.8 470.80L920.8 470.80L921.8 470.80L922.8 470.80L923.8 470.80L924.8 470.80L925.8 470.80L926.8 470.80L927.8 470.80L928.8 470.80L929.8 470.80L930.8 470.80L931.8 470.80L932.8 470.80L933.8 470.80L934.8 470.80L935.8 470.80L936.8 470.80L937.8 470.80L938.8 470.80L939.8 470.80L940.8 470.80L941.8 470.80L942.8 470.80L943.8 470.80L944.8 470.80L945.8 470.80L946.8 470.80L947.8 470.80L948.8 470.80" stroke="#689ECD" stroke-width="2.55" stroke-dasharray="0.01 4.4" stroke-linecap="round" fill="none"/>
<path d="M604.8 466.07L605.8 465.98L606.8 465.92L607.8 465.90L608.8 465.91L609.8 465.96L610.8 466.05L611.8 466.16L612.8 466.31L613.8 466.48L614.8 466.68L615.8 466.89L616.8 467.11L617.8 467.35L618.8 467.58L619.8 467.81L620.8 468.04L621.8 468.25L622.8 468.44L623.8 468.61L624.8 468.75L625.8 468.86L626.8 468.93L627.8 468.96L628.8 468.95L629.8 468.89L630.8 468.78L631.8 468.61L632.8 468.39L633.8 468.11L634.8 467.77L635.8 467.37L636.8 466.91L637.8 466.39L638.8 465.81L639.8 465.18L640.8 464.50L641.8 463.78L642.8 463.02L643.8 462.24L644.8 461.45L645.8 460.66L646.8 459.87L647.8 459.12L648.8 458.40L649.8 457.73L650.8 457.13L651.8 456.61L652.8 456.18L653.8 455.85L654.8 455.62L655.8 455.51L656.8 455.51L657.8 455.62L658.8 455.84L659.8 456.17L660.8 456.59L661.8 457.10L662.8 457.68L663.8 458.33L664.8 459.03L665.8 459.75L666.8 460.49L667.8 461.23L668.8 461.96L669.8 462.65L670.8 463.30L671.8 463.88L672.8 464.39L673.8 464.82L674.8 465.14L675.8 465.36L676.8 465.45L677.8 465.41L678.8 465.24L679.8 464.91L680.8 464.44L681.8 463.80L682.8 463.01L683.8 462.04L684.8 460.91L685.8 459.62L686.8 458.17L687.8 456.58L688.8 454.85L689.8 452.99L690.8 451.04L691.8 449.01L692.8 446.93L693.8 444.84L694.8 442.76L695.8 440.73L696.8 438.79L697.8 436.98L698.8 435.32L699.8 433.86L700.8 432.63L701.8 431.64L702.8 430.93L703.8 430.51L704.8 430.39L705.8 430.56L706.8 431.04L707.8 431.79L708.8 432.82L709.8 434.08L710.8 435.56L711.8 437.22L712.8 439.03L713.8 440.94L714.8 442.92L715.8 444.92L716.8 446.90L717.8 448.83L718.8 450.68L719.8 452.39L720.8 453.95L721.8 455.31L722.8 456.47L723.8 457.38L724.8 458.04L725.8 458.41L726.8 458.49L727.8 458.25L728.8 457.69L729.8 456.80L730.8 455.56L731.8 453.98L732.8 452.06L733.8 449.80L734.8 447.21L735.8 444.32L736.8 441.14L737.8 437.70L738.8 434.04L739.8 430.21L740.8 426.25L741.8 422.23L742.8 418.22L743.8 414.26L744.8 410.45L745.8 406.85L746.8 403.53L747.8 400.55L748.8 397.99L749.8 395.90L750.8 394.31L751.8 393.27L752.8 392.81L753.8 392.92L754.8 393.61L755.8 394.87L756.8 396.65L757.8 398.93L758.8 401.65L759.8 404.75L760.8 408.17L761.8 411.83L762.8 415.66L763.8 419.59L764.8 423.55L765.8 427.45L766.8 431.25L767.8 434.87L768.8 438.26L769.8 441.37L770.8 444.15L771.8 446.58L772.8 448.62L773.8 450.25L774.8 451.44L775.8 452.18L776.8 452.47L777.8 452.29L778.8 451.64L779.8 450.53L780.8 448.96L781.8 446.95L782.8 444.51L783.8 441.66L784.8 438.44L785.8 434.88L786.8 431.03L787.8 426.94L788.8 422.67L789.8 418.28L790.8 413.84L791.8 409.44L792.8 405.15L793.8 401.06L794.8 397.24L795.8 393.78L796.8 390.74L797.8 388.20L798.8 386.21L799.8 384.81L800.8 384.04L801.8 383.92L802.8 384.44L803.8 385.60L804.8 387.37L805.8 389.72L806.8 392.58L807.8 395.91L808.8 399.63L809.8 403.67L810.8 407.96L811.8 412.41L812.8 416.95L813.8 421.51L814.8 426.02L815.8 430.42L816.8 434.66L817.8 438.70L818.8 442.50L819.8 446.03L820.8 449.29L821.8 452.25L822.8 454.93L823.8 457.32L824.8 459.44L825.8 461.30L826.8 462.91L827.8 464.30L828.8 465.48L829.8 466.48L830.8 467.32L831.8 468.02L832.8 468.59L833.8 469.06L834.8 469.44L835.8 469.74L836.8 469.99L837.8 470.18L838.8 470.33L839.8 470.44L840.8 470.53L841.8 470.60L842.8 470.65L843.8 470.69L844.8 470.72L845.8 470.74L846.8 470.76L847.8 470.77L848.8 470.78L849.8 470.79L850.8 470.79L851.8 470.79L852.8 470.80L853.8 470.80L854.8 470.80L855.8 470.80L856.8 470.80L857.8 470.80L858.8 470.80L859.8 470.80L860.8 470.80L861.8 470.80L862.8 470.80L863.8 470.80L864.8 470.80L865.8 470.80L866.8 470.80L867.8 470.80L868.8 470.80L869.8 470.80L870.8 470.80L871.8 470.80L872.8 470.80L873.8 470.80L874.8 470.80L875.8 470.80L876.8 470.80L877.8 470.80L878.8 470.80L879.8 470.80L880.8 470.80L881.8 470.80L882.8 470.80L883.8 470.80L884.8 470.80L885.8 470.80L886.8 470.80L887.8 470.80L888.8 470.80L889.8 470.80L890.8 470.80L891.8 470.80L892.8 470.80L893.8 470.80L894.8 470.80L895.8 470.80L896.8 470.80L897.8 470.80L898.8 470.80L899.8 470.80L900.8 470.80L901.8 470.80L902.8 470.80L903.8 470.80L904.8 470.80L905.8 470.80L906.8 470.80L907.8 470.80L908.8 470.80L909.8 470.80L910.8 470.80L911.8 470.80L912.8 470.80L913.8 470.80L914.8 470.80L915.8 470.80L916.8 470.80L917.8 470.80L918.8 470.80L919.8 470.80L920.8 470.80L921.8 470.80L922.8 470.80L923.8 470.80L924.8 470.80L925.8 470.80L926.8 470.80L927.8 470.80L928.8 470.80L929.8 470.80L930.8 470.80L931.8 470.80L932.8 470.80L933.8 470.80L934.8 470.80L935.8 470.80L936.8 470.80L937.8 470.80L938.8 470.80L939.8 470.80L940.8 470.80L941.8 470.80L942.8 470.80L943.8 470.80L944.8 470.80L945.8 470.80L946.8 470.80L947.8 470.80L948.8 470.80" stroke="#689ECD" stroke-width="2.7" stroke-linecap="round" stroke-linejoin="round" fill="none"/>
<path d="M605.40 483.90V488.80M634.06 483.90V486.60M662.72 483.90V488.80M691.38 483.90V486.60M720.04 483.90V488.80M748.70 483.90V486.60M777.36 483.90V488.80M806.02 483.90V486.60M834.68 483.90V488.80M863.34 483.90V486.60M892.00 483.90V488.80M920.66 483.90V486.60M949.32 483.90V488.80" stroke="#000" stroke-width="2.2" fill="none"/>
<rect x="600.10" y="183.00" width="349.20" height="300.90" fill="none" stroke="#000" stroke-width="2.2"/>
<g font-size="16" fill="#000" stroke="#000" stroke-width="0.25" text-anchor="middle">
<text x="605.40" y="504.8">17</text>
<text x="662.72" y="504.8">18</text>
<text x="720.04" y="504.8">19</text>
<text x="777.36" y="504.8">20</text>
<text x="834.68" y="504.8">21</text>
<text x="892.00" y="504.8">22</text>
<text x="949.32" y="504.8">23</text>
</g>
<path d="M605 199H636.9" stroke="#689ECD" stroke-width="2.2" fill="none"/>
<path d="M604.5 215.6H636.5" stroke="#689ECD" stroke-width="2.2" stroke-dasharray="2.2 2.6" fill="none"/>
<text transform="translate(640.30 203.50)" font-size="13.3" fill="#000" stroke="#000" stroke-width="0.27" text-anchor="start" class="i" xml:space="preserve">SO-CCSD(T)</text>
<text transform="translate(640.30 220.00)" font-size="13.3" fill="#000" stroke="#000" stroke-width="0.27" text-anchor="start" class="i" xml:space="preserve">Prediction</text>
<text transform="translate(774.80 535.10) scale(1.0620 1)" font-size="17" fill="#000" stroke="#000" stroke-width="0.34" text-anchor="middle" xml:space="preserve">Wavenumber ( × 10<tspan dy="-6.5" font-size="12">3</tspan><tspan dy="6.5"> cm</tspan><tspan dy="-6.5" font-size="12">-1</tspan><tspan dy="6.5"> )</tspan></text>
<text transform="translate(971.30 339.60) rotate(90) scale(1.0540 1)" font-size="17" fill="#000" stroke="#000" stroke-width="0.34" text-anchor="middle" xml:space="preserve">Intensity (a.u.)</text>
</svg></body></html>
